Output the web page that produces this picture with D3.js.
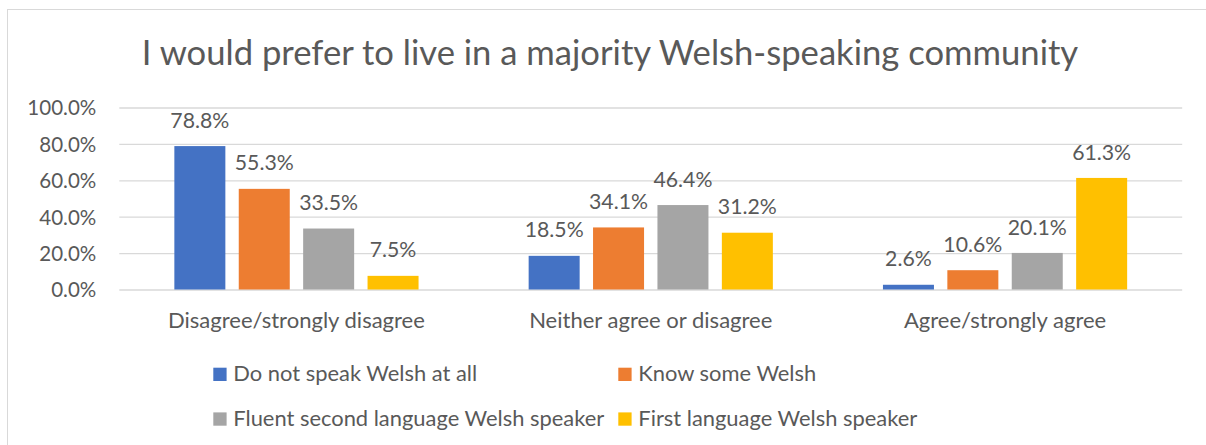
<!DOCTYPE html>
<html><head><meta charset="utf-8">
<script src="https://cdn.jsdelivr.net/npm/d3@7"></script>
<style>html,body{margin:0;padding:0;background:#fff;}svg{display:block;}</style>
</head><body>
<svg id="chart" width="1206" height="445"></svg>
<script>
const title = "I would prefer to live in a majority Welsh-speaking community";
const categories = ["Disagree/strongly disagree", "Neither agree or disagree", "Agree/strongly agree"];
const seriesNames = ["Do not speak Welsh at all", "Know some Welsh", "Fluent second language Welsh speaker", "First language Welsh speaker"];
const doNotSpeak = [78.8, 18.5, 2.6];
const knowSome = [55.3, 34.1, 10.6];
const fluentSecond = [33.5, 46.4, 20.1];
const firstLanguage = [7.5, 31.2, 61.3];
const yTicks = [0, 20, 40, 60, 80, 100];
const colors = ["#4472C4", "#ED7D31", "#A5A5A5", "#FFC000"];

const seriesValues = [doNotSpeak, knowSome, fluentSecond, firstLanguage];
const FONT = "Lato, 'Open Sans', sans-serif";
const TEXT = "#595959";
const svg = d3.select("#chart");

function fitSize(str, target) {
  const t = svg.append("text").attr("font-family", FONT).attr("font-size", 100).text(str);
  const w = t.node().getComputedTextLength();
  t.remove();
  return 100 * target / w;
}

// chart border
svg.append("rect").attr("x", 7.5).attr("y", 9.5).attr("width", 1240).attr("height", 460)
  .attr("fill", "none").attr("stroke", "#d9d9d9").attr("stroke-width", 1);

// title
svg.append("text").attr("x", 610).attr("y", 65).attr("text-anchor", "middle")
  .attr("font-family", FONT).attr("font-size", fitSize(title, 937)).attr("fill", TEXT).text(title);

const plotLeft = 119.3, plotRight = 1182.2;
const y = d3.scaleLinear().domain([0, 100]).range([289.5, 107.5]);
const x0 = d3.scaleBand().domain(categories).range([plotLeft, plotRight]).padding(0);
const groupW = 244.2;
const x1 = d3.scaleBand().domain(seriesNames).range([0, groupW]).paddingInner(0.208).paddingOuter(0);

// gridlines
const yAxis = d3.axisLeft(y).tickValues(yTicks).tickSize(-(plotRight - plotLeft)).tickFormat(d => d3.format(".1f")(d) + "%");
const ga = svg.append("g").attr("transform", `translate(${plotLeft},0)`).call(yAxis);
ga.select(".domain").remove();
ga.selectAll(".tick line").attr("stroke", "#d9d9d9").attr("stroke-width", 1.3);
ga.selectAll(".tick text").attr("x", -23).attr("font-family", FONT)
  .attr("font-size", fitSize("100.0%", 69)).attr("fill", TEXT).attr("dy", "0.36em");

// bars
const groups = svg.append("g").selectAll("g").data(categories).join("g")
  .attr("transform", c => `translate(${x0(c) + (x0.bandwidth() - groupW) / 2},0)`);
const labelSize = fitSize("78.8%", 59);
groups.each(function(c, ci) {
  const g = d3.select(this);
  const data = seriesNames.map((s, si) => ({s, si, v: seriesValues[si][ci]}));
  g.selectAll("rect").data(data).join("rect")
    .attr("x", d => x1(d.s)).attr("width", x1.bandwidth())
    .attr("y", d => y(d.v)).attr("height", d => y(0) - y(d.v))
    .attr("fill", d => colors[d.si]);
  g.selectAll("text").data(data).join("text")
    .attr("x", d => x1(d.s) + x1.bandwidth() / 2).attr("y", d => y(d.v) - 18.4)
    .attr("text-anchor", "middle").attr("font-family", FONT).attr("font-size", labelSize)
    .attr("fill", TEXT).text(d => d3.format(".1f")(d.v) + "%");
});

// category labels
const catSize = fitSize(categories[0], 257);
svg.append("g").selectAll("text").data(categories).join("text")
  .attr("x", c => x0(c) + x0.bandwidth() / 2).attr("y", 328)
  .attr("text-anchor", "middle").attr("font-family", FONT).attr("font-size", catSize)
  .attr("fill", TEXT).text(c => c);

// legend
const legSize = fitSize(seriesNames[0], 244);
const legCols = [213.3, 618.3], legRows = [381, 425.7];
const leg = svg.append("g").selectAll("g").data(seriesNames).join("g")
  .attr("transform", (s, i) => `translate(${legCols[i % 2]},${legRows[Math.floor(i / 2)]})`);
leg.append("rect").attr("x", 0).attr("y", -13.3).attr("width", 13.3).attr("height", 13.3)
  .attr("fill", (s, i) => colors[i]);
leg.append("text").attr("x", 20).attr("y", 0).attr("font-family", FONT).attr("font-size", legSize)
  .attr("fill", TEXT).text(s => s);
</script>
</body></html>
